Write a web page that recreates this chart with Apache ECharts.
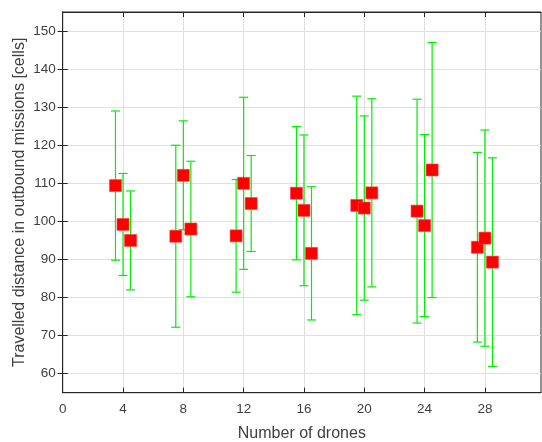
<!DOCTYPE html>
<html>
<head>
<meta charset="utf-8">
<script src="https://cdn.jsdelivr.net/npm/echarts@6/dist/echarts.min.js"></script>
<style>html,body{margin:0;padding:0;background:#fff}#c{width:542px;height:442px}</style>
</head>
<body>
<div id="c"></div>
<script>
const groups = [4, 8, 12, 16, 20, 24, 28];
const offsets = [-0.5, 0, 0.5];
const means1 = [109.4, 96.1, 96.2, 107.4, 104.2, 102.7, 93.2];
const err1   = [19.6, 23.9, 14.8, 17.5, 28.7, 29.4, 24.9];
const means2 = [99.2, 112.1, 110.0, 102.9, 103.5, 98.9, 95.6];
const err2   = [13.4, 14.3, 22.6, 19.8, 24.2, 23.9, 28.4];
const means3 = [95.0, 98.0, 104.7, 91.6, 107.5, 113.5, 89.3];
const err3   = [13.0, 17.8, 12.6, 17.5, 24.7, 33.5, 27.4];
const xTicks = [0, 4, 8, 12, 16, 20, 24, 28];
const yTicks = [60, 70, 80, 90, 100, 110, 120, 130, 140, 150];

const allMeans = [means1, means2, means3];
const allErr = [err1, err2, err3];
const pts = [];
const bars = [];
allMeans.forEach((m, s) => {
  m.forEach((v, i) => {
    const x = groups[i] + offsets[s];
    pts.push([x, v]);
    bars.push([x, v - allErr[s][i], v + allErr[s][i]]);
  });
});

const font = 'Liberation Sans, Arial, Helvetica, sans-serif';
const axisCol = '#262626';
const textCol = '#404040';
const chart = echarts.init(document.getElementById('c'), null, {renderer: 'canvas'});
chart.setOption({
  animation: false,
  backgroundColor: '#fff',
  grid: {left: 62.7, right: 1, top: 12, bottom: 49.3, show: true, borderColor: axisCol, borderWidth: 1,
         containLabel: false, outerBoundsMode: 'none'},
  xAxis: [{
    type: 'value', min: 0, max: 31.72, interval: 4,
    name: 'Number of drones', nameLocation: 'middle', nameGap: 33, nameMoveOverlap: false,
    nameTextStyle: {fontFamily: font, fontSize: 16, color: textCol},
    axisLine: {show: true, lineStyle: {color: axisCol}},
    axisTick: {show: true, inside: true, length: 5, lineStyle: {color: axisCol}, customValues: xTicks},
    axisLabel: {fontFamily: font, fontSize: 13.5, color: textCol, margin: 10, customValues: xTicks},
    splitLine: {show: true, lineStyle: {color: '#dfdfdf'}}
  }, {
    type: 'value', position: 'top', min: 0, max: 31.72, interval: 4,
    axisLine: {show: true, lineStyle: {color: axisCol}},
    axisTick: {show: true, inside: true, length: 5, lineStyle: {color: axisCol}, customValues: xTicks},
    axisLabel: {show: false}, splitLine: {show: false}
  }],
  yAxis: [{
    type: 'value', min: 55, max: 155,
    name: 'Travelled distance in outbound missions [cells]', nameLocation: 'middle', nameGap: 35, nameRotate: 90,
    nameMoveOverlap: false,
    nameTextStyle: {fontFamily: font, fontSize: 16, color: textCol},
    axisLine: {show: true, lineStyle: {color: axisCol}},
    axisTick: {show: true, inside: true, length: 5, lineStyle: {color: axisCol}, customValues: yTicks},
    axisLabel: {fontFamily: font, fontSize: 13.5, color: textCol, margin: 7, customValues: yTicks},
    splitLine: {show: true, lineStyle: {color: '#dfdfdf'}}
  }, {
    type: 'value', position: 'right', min: 55, max: 155,
    axisLine: {show: true, lineStyle: {color: axisCol}},
    axisTick: {show: true, inside: true, length: 5, lineStyle: {color: axisCol}, customValues: yTicks},
    axisLabel: {show: false}, splitLine: {show: false}
  }],
  series: [{
    type: 'custom',
    data: bars,
    encode: {x: 0, y: [1, 2]},
    z: 2,
    renderItem: function (params, api) {
      const x = api.value(0);
      const lo = api.coord([x, api.value(1)]);
      const hi = api.coord([x, api.value(2)]);
      const hw = 4.5;
      const st = {stroke: '#00ee00', lineWidth: 1.2, fill: null};
      return {type: 'group', children: [
        {type: 'line', shape: {x1: lo[0], y1: lo[1], x2: hi[0], y2: hi[1]}, style: st},
        {type: 'line', shape: {x1: lo[0] - hw, y1: lo[1], x2: lo[0] + hw, y2: lo[1]}, style: st},
        {type: 'line', shape: {x1: hi[0] - hw, y1: hi[1], x2: hi[0] + hw, y2: hi[1]}, style: st}
      ]};
    }
  }, {
    type: 'scatter',
    data: pts,
    symbol: 'rect',
    symbolSize: 12,
    z: 3,
    itemStyle: {color: '#ff0000', borderColor: '#ff4040', borderWidth: 0.6, opacity: 1}
  }]
});
</script>
</body>
</html>
